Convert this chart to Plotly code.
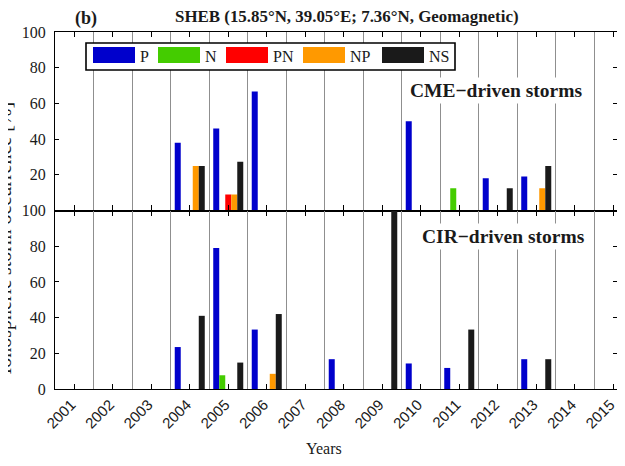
import plotly.graph_objects as go

# ---------------- data ----------------
years = [2001, 2002, 2003, 2004, 2005, 2006, 2007, 2008, 2009, 2010, 2011, 2012, 2013, 2014, 2015]
series_names = ["P", "N", "PN", "NP", "NS"]
series_colors = ["#0000CC", "#44CC00", "#FF0000", "#FF9900", "#1A1A1A"]

# CME-driven storms (%)
cme_P  = [0, 0, 0, 38, 46, 66.7, 0, 0, 0, 50, 0, 18, 19, 0, 0]
cme_N  = [0, 0, 0, 0, 0, 0, 0, 0, 0, 0, 12.5, 0, 0, 0, 0]
cme_PN = [0, 0, 0, 0, 9, 0, 0, 0, 0, 0, 0, 0, 0, 0, 0]
cme_NP = [0, 0, 0, 25, 9, 0, 0, 0, 0, 0, 0, 0, 12.5, 0, 0]
cme_NS = [0, 0, 0, 25, 27.3, 0, 0, 0, 0, 0, 0, 12.5, 25, 0, 0]

# CIR-driven storms (%)
cir_P  = [0, 0, 0, 23.5, 79, 33.3, 0, 16.7, 0, 14.3, 11.8, 0, 16.7, 0, 0]
cir_N  = [0, 0, 0, 0, 7.7, 0, 0, 0, 0, 0, 0, 0, 0, 0, 0]
cir_PN = [0, 0, 0, 0, 0, 0, 0, 0, 0, 0, 0, 0, 0, 0, 0]
cir_NP = [0, 0, 0, 0, 0, 8.5, 0, 0, 0, 0, 0, 0, 0, 0, 0]
cir_NS = [0, 0, 0, 41, 14.8, 42, 0, 0, 100, 0, 33.3, 0, 16.7, 0, 0]

y_ticks_top = [20, 40, 60, 80, 100]
y_ticks_bottom = [0, 20, 40, 60, 80, 100]
y_ticks_right = [20, 40, 60, 80]

title_text = "SHEB (15.85\u00b0N, 39.05\u00b0E; 7.36\u00b0N, Geomagnetic)"
panel_label = "(b)"
top_label = "CME\u2212driven storms"
bottom_label = "CIR\u2212driven storms"
x_title = "Years"
y_title = "Ionospheric storm occurrence [%]"

# ---------------- layout geometry ----------------
# the page adds an 8px body margin, so figure pixels = screen pixels - 8
OFF = 8
W, H = 625 - OFF * 2, 466 - OFF * 2
SL, SR, ST, SB = 55, 625 - OFF, 32, 389          # plot area in screen pixels
CELL = 38.5                                         # pixels per year


def px(x):
    return (x - SL) / (SR - SL)


def py(y):
    return (SB - y) / (SB - ST)


SERIF = "Liberation Serif, Times New Roman, serif"
SANS = "Liberation Sans, Arial, sans-serif"
TXT = "#1a1a1a"

fig = go.Figure()

cme = [cme_P, cme_N, cme_PN, cme_NP, cme_NS]
cir = [cir_P, cir_N, cir_PN, cir_NP, cir_NS]
for name, color, vals in zip(series_names, series_colors, cme):
    fig.add_trace(go.Bar(x=years, y=vals, name=name, marker_color=color,
                         marker_line_width=0, xaxis="x", yaxis="y",
                         showlegend=False, offsetgroup=name))
for name, color, vals in zip(series_names, series_colors, cir):
    fig.add_trace(go.Bar(x=years, y=vals, name=name, marker_color=color,
                         marker_line_width=0, xaxis="x2", yaxis="y2",
                         showlegend=False, offsetgroup=name))

# empty traces to realise the right-hand tick axes
fig.add_trace(go.Scatter(x=[], y=[], xaxis="x", yaxis="y3", showlegend=False))
fig.add_trace(go.Scatter(x=[], y=[], xaxis="x2", yaxis="y4", showlegend=False))

xrange = [2000.5, 2000.5 + (SR - SL) / CELL]

xcommon = dict(
    range=xrange, tickvals=years, ticks="inside", ticklen=5, tickwidth=1.1,
    tickcolor="black", showline=True, linecolor="black", linewidth=1.2,
    mirror="ticks", showgrid=False, zeroline=False,
    minor=dict(tick0=2000.5, dtick=1, showgrid=True, gridcolor="#8f8f8f",
               gridwidth=1.1, ticks=""),
)
ycommon = dict(range=[0, 100], ticks="inside", ticklen=4, tickcolor="black",
               showline=True, linecolor="black", linewidth=1.2,
               showgrid=False, zeroline=False, ticklabelstandoff=5,
               tickfont=dict(family=SERIF, size=16, color=TXT))
yright = dict(side="right", range=[0, 100], tickvals=y_ticks_right,
              ticks="inside", ticklen=4, tickcolor="black", showline=False,
              showgrid=False, zeroline=False, showticklabels=False)

fig.update_layout(
    width=W, height=H,
    margin=dict(l=SL - OFF, r=W - (SR - OFF), t=ST - OFF, b=H - (SB - OFF), pad=0),
    paper_bgcolor="white", plot_bgcolor="white",
    barmode="group", bargap=0.22, bargroupgap=0,
    xaxis=dict(**xcommon, anchor="y", showticklabels=False),
    xaxis2=dict(**xcommon, anchor="y2", showticklabels=True,
                tickangle=-45, tickfont=dict(family=SANS, size=15, color=TXT),
                ticklabelstandoff=0, ticklabelshift=-3, ticklabeloverflow="allow"),
    yaxis=dict(**ycommon, domain=[0.5, 1], tickvals=y_ticks_top, anchor="x"),
    yaxis2=dict(**ycommon, domain=[0, 0.5], tickvals=y_ticks_bottom, anchor="x2"),
    yaxis3=dict(**yright, overlaying="y", anchor="x"),
    yaxis4=dict(**yright, overlaying="y2", anchor="x2"),
)


def label(text, x, y, size, xanchor="center", **kw):
    return dict(text=text, x=px(x), y=py(y), xref="paper", yref="paper",
                xanchor=xanchor, yanchor="middle", showarrow=False,
                font=dict(family=SERIF, size=size, color=TXT), **kw)


annotations = [
    label("<b>" + title_text + "</b>", 347, 17, 16.9),
    label("<b>" + panel_label + "</b>", 86, 18.5, 18),
    label("<b>" + top_label + "</b>", 496, 90, 19.5, bgcolor="white", borderpad=2),
    label("<b>" + bottom_label + "</b>", 503, 237, 19.5, bgcolor="white", borderpad=2),
    label(x_title, 324, 448, 16),
    label(y_title, 18, 238, 20, xanchor="right", textangle=-90),
]

# custom legend (box, swatches, labels)
shapes = [dict(type="rect", xref="paper", yref="paper",
               x0=px(86), x1=px(455), y0=py(70), y1=py(43),
               line=dict(color="black", width=1.6), fillcolor="white", layer="above")]
swatch_left = [93, 158, 226, 303, 382]
for name, color, sx in zip(series_names, series_colors, swatch_left):
    shapes.append(dict(type="rect", xref="paper", yref="paper",
                       x0=px(sx), x1=px(sx + 42), y0=py(63), y1=py(47),
                       line=dict(width=0), fillcolor=color, layer="above"))
    annotations.append(label(name, sx + 45, 57, 16, xanchor="left"))

fig.update_layout(annotations=annotations, shapes=shapes)

fig.write_html("out.html")
